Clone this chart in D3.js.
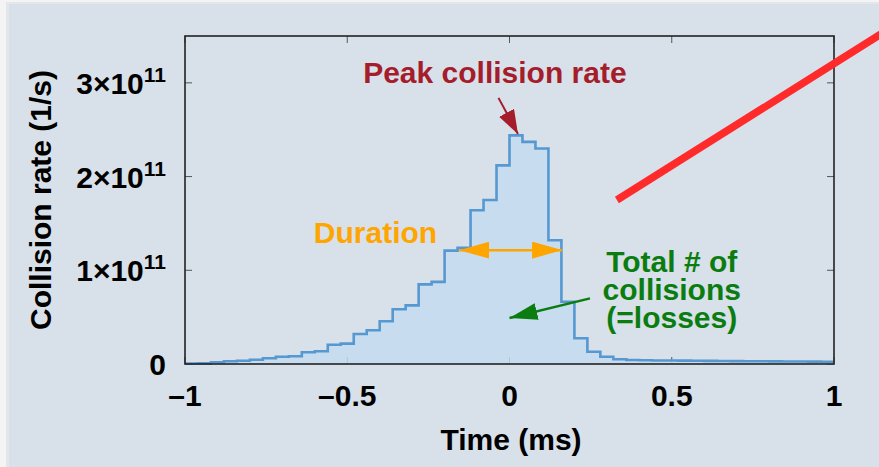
<!DOCTYPE html>
<meta charset="utf-8">
<style>
body { margin: 0; background: #f4f4f4; }
svg { display: block; }
text { font-family: "Liberation Sans", Arial, sans-serif; font-weight: bold; }
.tick-label { font-size: 30px; fill: #000; }
</style>
<svg width="879" height="467"></svg>
<script src="https://cdn.jsdelivr.net/npm/d3@7"></script>
<script>

// bin edges (ms) and collision rate per bin (units of 1e11 /s)
var binEdges = [-1, -0.96, -0.92, -0.88, -0.84, -0.8, -0.76, -0.72, -0.68, -0.64,
  -0.6, -0.56, -0.52, -0.48, -0.44, -0.4, -0.36, -0.32, -0.28, -0.24,
  -0.2, -0.16, -0.12, -0.08, -0.04, 0, 0.04, 0.08, 0.12, 0.16,
  0.2, 0.24, 0.28, 0.32, 0.36, 0.4, 0.44, 0.48, 0.52, 0.56,
  0.6, 0.64, 0.68, 0.72, 0.76, 0.8, 0.84, 0.88, 0.92, 0.96, 1];

var rates = [0.006, 0.007, 0.018, 0.029, 0.035, 0.046, 0.061, 0.078, 0.082, 0.125,
  0.136, 0.206, 0.217, 0.32, 0.36, 0.456, 0.584, 0.626, 0.85, 0.876,
  1.21, 1.24, 1.64, 1.75, 2.12, 2.44, 2.37, 2.30, 1.32, 0.665,
  0.274, 0.131, 0.078, 0.05, 0.042, 0.040, 0.038, 0.037, 0.036, 0.034,
  0.033, 0.032, 0.031, 0.030, 0.029, 0.028, 0.027, 0.026, 0.025, 0.024];

var xTicks = [-1, -0.5, 0, 0.5, 1],
    xTickLabels = ["\u20131", "\u20130.5", "0", "0.5", "1"],
    yTicks = [0, 1, 2, 3],
    yTickLabels = ["0", "1\u00d710", "2\u00d710", "3\u00d710"];

var svg = d3.select("svg");

// panel background with a soft edge
svg.append("rect").attr("x", 6).attr("y", 2).attr("width", 880).attr("height", 470)
    .attr("fill", "#e4e6e9");
svg.append("rect").attr("x", 9).attr("y", 4).attr("width", 880).attr("height", 470)
    .attr("fill", "#d8e0e9");

var margin = {left: 185, right: 834, top: 36, bottom: 364};

var x = d3.scaleLinear().domain([-1, 1]).range([margin.left, margin.right]),
    y = d3.scaleLinear().domain([0, 3.5]).range([margin.bottom, margin.top]);

var bins = rates.map(function(r, i) { return {t: binEdges[i], v: r}; });
bins.push({t: binEdges[binEdges.length - 1], v: rates[rates.length - 1]});

// ticks (inside, mirrored)
var tickLen = 7;
var ticks = svg.append("g").attr("stroke", "#555").attr("stroke-width", 1);
xTicks.forEach(function(t) {
  ticks.append("line").attr("x1", x(t)).attr("x2", x(t)).attr("y1", y(0)).attr("y2", y(0) - tickLen);
  ticks.append("line").attr("x1", x(t)).attr("x2", x(t)).attr("y1", y(3.5)).attr("y2", y(3.5) + tickLen);
});
yTicks.forEach(function(v) {
  ticks.append("line").attr("x1", x(-1)).attr("x2", x(-1) + tickLen).attr("y1", y(v)).attr("y2", y(v));
  ticks.append("line").attr("x1", x(1)).attr("x2", x(1) - tickLen).attr("y1", y(v)).attr("y2", y(v));
});

// histogram
var area = d3.area().curve(d3.curveStepAfter)
    .x(function(d) { return x(d.t); })
    .y0(y(0))
    .y1(function(d) { return y(d.v); });
var line = d3.line().curve(d3.curveStepAfter)
    .x(function(d) { return x(d.t); })
    .y(function(d) { return y(d.v); });

svg.append("path").datum(bins).attr("d", area)
    .attr("fill", "#c4dbef").attr("fill-opacity", 0.85);
svg.append("path").datum(bins).attr("d", line)
    .attr("fill", "none").attr("stroke", "#5598d2").attr("stroke-width", 2.6);

// frame
svg.append("rect")
    .attr("x", x(-1)).attr("y", y(3.5))
    .attr("width", x(1) - x(-1)).attr("height", y(0) - y(3.5))
    .attr("fill", "none").attr("stroke", "#222").attr("stroke-width", 1.6);

// tick labels
svg.selectAll(".xl").data(xTicks).enter().append("text")
    .attr("class", "tick-label")
    .attr("x", function(d) { return x(d); })
    .attr("y", 406)
    .attr("text-anchor", "middle")
    .text(function(d, i) { return xTickLabels[i]; });

var yl = svg.selectAll(".yl").data(yTicks).enter().append("text")
    .attr("class", "tick-label")
    .attr("x", 166)
    .attr("y", function(d) { return y(d) + 11; })
    .attr("text-anchor", "end");
yl.append("tspan").text(function(d, i) { return yTickLabels[i]; });
yl.filter(function(d) { return d > 0; }).append("tspan")
    .attr("dy", -12).attr("font-size", 21).text("11");

// axis titles
svg.append("text").attr("class", "tick-label")
    .attr("x", 511).attr("y", 450).attr("text-anchor", "middle")
    .text("Time (ms)");
svg.append("text").attr("class", "tick-label")
    .attr("transform", "translate(51," + y(1.75) + ") rotate(-90)")
    .attr("text-anchor", "middle")
    .text("Collision rate (1/s)");

// annotations
var defs = svg.append("defs");
function marker(id, color, w, h) {
  defs.append("marker").attr("id", id)
      .attr("viewBox", "0 0 " + w + " " + h)
      .attr("refX", w).attr("refY", h / 2)
      .attr("markerWidth", w).attr("markerHeight", h)
      .attr("markerUnits", "userSpaceOnUse")
      .attr("orient", "auto-start-reverse")
    .append("path").attr("d", "M0,0L" + w + "," + h / 2 + "L0," + h + "Z").attr("fill", color);
}
marker("ar-red", "#a51c2b", 24, 17);
marker("ar-orange", "#ffa500", 30, 17);
marker("ar-green", "#0b7d10", 28, 17);

svg.append("text").attr("x", x(-0.045)).attr("y", y(3.0)).attr("text-anchor", "middle")
    .attr("font-size", 30).attr("fill", "#a51c2b").text("Peak collision rate");
svg.append("line")
    .attr("x1", x(-0.034)).attr("y1", y(2.84)).attr("x2", x(0.026)).attr("y2", y(2.455))
    .attr("stroke", "#a51c2b").attr("stroke-width", 2).attr("marker-end", "url(#ar-red)");

svg.append("text").attr("x", x(-0.223)).attr("y", y(1.29)).attr("text-anchor", "end")
    .attr("font-size", 30).attr("fill", "#ffa500").text("Duration");
svg.append("line")
    .attr("x1", x(-0.155)).attr("y1", y(1.215)).attr("x2", x(0.162)).attr("y2", y(1.215))
    .attr("stroke", "#ffa500").attr("stroke-width", 2.5)
    .attr("marker-start", "url(#ar-orange)").attr("marker-end", "url(#ar-orange)");

var green = svg.append("text").attr("text-anchor", "middle")
    .attr("font-size", 30).attr("fill", "#0b7d10");
["Total # of", "collisions", "(=losses)"].forEach(function(s, i) {
  green.append("tspan").attr("x", x(0.5)).attr("y", y(1.0) + 2 + i * 28).text(s);
});
svg.append("line")
    .attr("x1", x(0.248)).attr("y1", y(0.70)).attr("x2", x(0.0)).attr("y2", y(0.49))
    .attr("stroke", "#0b7d10").attr("stroke-width", 2.5).attr("marker-end", "url(#ar-green)");

svg.append("line")
    .attr("x1", x(0.331)).attr("y1", y(1.75)).attr("x2", x(1.25)).attr("y2", y(3.75))
    .attr("stroke", "#ff2a2a").attr("stroke-width", 7.5);

</script>
